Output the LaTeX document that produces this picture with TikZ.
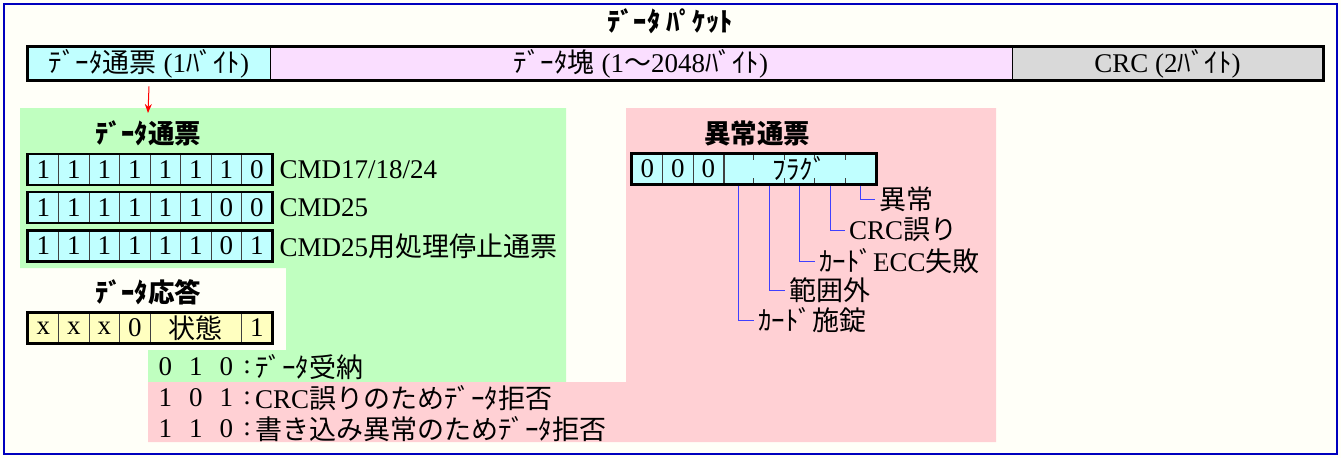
\documentclass[tikz,border=0pt]{standalone}
\usepackage{fontspec}
\setmainfont{Liberation Serif}
\newfontfamily\jp{Noto Sans CJK JP}
\usetikzlibrary{arrows.meta,calc}
\newcommand{\J}[1]{{\jp #1}}
\definecolor{ivory}{RGB}{255,255,248}
\definecolor{frameblue}{RGB}{0,0,190}
\definecolor{cyanc}{RGB}{192,255,255}
\definecolor{pinkc}{RGB}{250,222,255}
\definecolor{grayc}{RGB}{217,217,217}
\definecolor{greenr}{RGB}{192,255,192}
\definecolor{pinkr}{RGB}{255,208,212}
\definecolor{yellowc}{RGB}{255,255,192}
\definecolor{leadblue}{RGB}{64,64,255}
\begin{document}
\begin{tikzpicture}[x=1pt,y=-1pt,
  every node/.style={font=\fontsize{27}{29}\selectfont, inner sep=0pt},
  ttl/.style={font=\fontsize{26.5}{28}\selectfont\jp\bfseries},
  seg/.style={draw=black, line width=0.8pt, minimum height=33pt},
  cellc/.style={draw=black!75, line width=0.8pt, fill=cyanc, minimum width=30.5pt, minimum height=30pt},
  cellbare/.style={fill=cyanc, minimum width=30.5pt, minimum height=30pt},
  celly/.style={draw=black!75, line width=0.8pt, fill=yellowc, minimum width=30.5pt, minimum height=30pt},
  rowframe/.style={draw=black, line width=2.6pt},
  lbl/.style={anchor=west},
  leader/.style={draw=leadblue, line width=0.9pt},
  tick/.style={draw=black!75, line width=0.8pt}]
\useasboundingbox (0,0) rectangle (1341,458);
\fill[ivory] (0,0) rectangle (1341,458);
\draw[frameblue, line width=2pt] (4,4) rectangle (1337,454);

% background regions
\fill[greenr] (20,108) -- (566,108) -- (566,382) -- (148,382) -- (148,350) -- (286,350) -- (286,268) -- (20,268) -- cycle;
\fill[pinkr] (626,108) -- (996,108) -- (996,442) -- (148,442) -- (148,382) -- (626,382) -- cycle;

% packet
\node[ttl] (title) at (670,21) {ﾃﾞｰﾀ ﾊﾟｹｯﾄ};
\node[seg, fill=cyanc, minimum width=242pt] (pk1) at (149,63.5) {\J{ﾃﾞｰﾀ通票} (1\J{ﾊﾞｲﾄ})};
\node[seg, fill=pinkc, minimum width=742pt] (pk2) at (641,63.5) {\J{ﾃﾞｰﾀ塊} (1\J{〜}2048\J{ﾊﾞｲﾄ})};
\node[seg, fill=grayc, minimum width=311pt] (pk3) at (1167.5,63.5) {CRC (2\J{ﾊﾞｲﾄ})};
\draw[rowframe] (pk1.north west) rectangle (pk3.south east);

% data token
\node[ttl] (dt) at (148,133) {ﾃﾞｰﾀ通票};
\coordinate (arrend) at (148,113);
\draw[red, line width=1pt, -{Stealth[length=9pt,width=7pt]}] ([yshift=-6pt]pk1.south) -- (arrend);

\foreach \r/\y/\bits in {1/169.5/{1,1,1,1,1,1,1,0},2/207.5/{1,1,1,1,1,1,0,0},3/246/{1,1,1,1,1,1,0,1}}{
  \foreach \b [count=\c] in \bits {
    \node[cellc] (d\r c\c) at ({28+30.5*(\c-0.5)},\y) {\b};
  }
  \draw[rowframe] (d\r c1.north west) rectangle (d\r c8.south east);
}
\node[lbl] (l1) at ([xshift=7pt]d1c8.east) {CMD17/18/24};
\node[lbl] (l2) at ([xshift=7pt]d2c8.east) {CMD25};
\node[lbl] (l3) at ([xshift=7pt]d3c8.east) {CMD25\J{用処理停止通票}};

% data response
\node[ttl] (dr) at (148,292) {ﾃﾞｰﾀ応答};
\node[celly] (r1) at (43.25,328) {x};
\node[celly] (r2) at (73.75,328) {x};
\node[celly] (r3) at (104.25,328) {x};
\node[celly] (r4) at (134.75,328) {0};
\node[celly, minimum width=91.5pt] (r5) at (195.75,328) {\J{状態}};
\node[celly] (r8) at (256.75,328) {1};
\draw[rowframe] (r1.north west) rectangle (r8.south east);

\foreach \n/\y/\a/\bb/\cc/\t in {a/367/0/1/0/{\J{ﾃﾞｰﾀ受納}}, b/398/1/0/1/{CRC\J{誤りのためﾃﾞｰﾀ拒否}}, c/429/1/1/0/{\J{書き込み異常のためﾃﾞｰﾀ拒否}}}{
  \node (s\n1) at (165.25,\y) {\a};
  \node (s\n2) at (195.75,\y) {\bb};
  \node (s\n3) at (226.25,\y) {\cc};
  \node (s\n4) at (247,\y) {:};
  \node[lbl] (s\n5) at (255,\y) {\t};
}

% error token
\node[ttl] (et) at (757,133) {異常通票};
\foreach \c in {1,2,3}{
  \node[cellc] (e\c) at ({632+30.5*(\c-0.5)},169) {0};
}
\foreach \c in {4,...,8}{
  \node[cellbare] (e\c) at ({632+30.5*(\c-0.5)},169) {};
}
\node (flag) at ($(e4)!0.5!(e8)$) {\J{ﾌﾗｸﾞ}};
\foreach \c in {5,...,8}{
  \draw[tick] (e\c.north west) -- ++(0,6);
  \draw[tick] (e\c.south west) -- ++(0,-6);
}
\draw[tick] (e3.north east) -- (e3.south east);
\draw[rowframe] (e1.north west) rectangle (e8.south east);

\node[lbl] (m8) at (879,199) {\J{異常}};
\node[lbl] (m7) at (849,230) {CRC\J{誤り}};
\node[lbl] (m6) at (819,261) {\J{ｶｰﾄﾞ}ECC\J{失敗}};
\node[lbl] (m5) at (789,290) {\J{範囲外}};
\node[lbl] (m4) at (758,320) {\J{ｶｰﾄﾞ施錠}};
\foreach \c in {4,...,8}{
  \draw[leader] ([yshift=-1.5pt]e\c.south) |- ([xshift=-4pt]m\c.west);
}
\end{tikzpicture}
\end{document}
